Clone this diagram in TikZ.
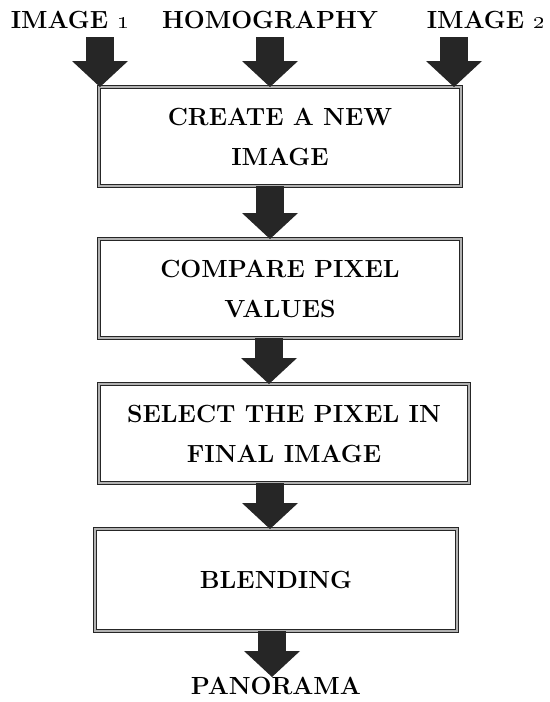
\documentclass[tikz,border=0pt]{standalone}
\usetikzlibrary{positioning,arrows.meta}

\tikzset{
  proc/.style={draw=black!85, double=black!30, double distance=0.8pt, line width=0.8pt,
    fill=white, align=center, minimum width=181pt, minimum height=49.5pt,
    inner sep=0pt, outer sep=0pt, font=\fontsize{12.4}{20}\selectfont\bfseries},
  lbl/.style={inner sep=0pt, outer sep=0pt, font=\fontsize{12.4}{15}\selectfont\bfseries},
  blk/.style={draw=black!85, line width=14pt,
    -{Triangle[width=28pt,length=13pt,line width=0pt]}},
}

\begin{document}
\begin{tikzpicture}[x=0.5pt, y=-0.5pt]
  \useasboundingbox (0,0) rectangle (550,702);

  \node[lbl, anchor=base] (img1) at (70,28) {IMAGE \oldstylenums{1}};
  \node[lbl, anchor=base] (homog) at (270,28) {HOMOGRAPHY};
  \node[lbl, anchor=base] (img2) at (486,28) {IMAGE \oldstylenums{2}};

  \node[proc] (create) at (280,136.5) {CREATE A NEW\\IMAGE};
  \node[proc, below=26.5pt of create] (compare) {COMPARE PIXEL\\VALUES};
  \node[proc, below=23pt of compare, xshift=2pt, minimum width=185pt] (select)
    {SELECT THE PIXEL IN\\FINAL IMAGE};
  \node[proc, below=23pt of select, xshift=-4pt, minimum height=51pt] (blend) {BLENDING};
  \node[lbl, below=23pt of blend] (pano) {PANORAMA};

  \draw[blk, shorten <=4.5pt] ([xshift=0.5pt]img1.south -| create.north west) -- ([xshift=0.5pt]create.north west);
  \draw[blk, shorten <=4.5pt] (homog.south) -- (homog.south |- create.north);
  \draw[blk, shorten <=4.5pt] ([xshift=-3.5pt]img2.south -| create.north east) -- ([xshift=-3.5pt]create.north east);

  \draw[blk] ([xshift=-5pt]create.south) -- ([xshift=-5pt]create.south |- compare.north);
  \draw[blk] ([xshift=-5.5pt]compare.south) -- ([xshift=-5.5pt]compare.south |- select.north);
  \draw[blk] ([xshift=-7pt]select.south) -- ([xshift=-7pt]select.south |- blend.north);
  \draw[blk] ([xshift=-2pt]blend.south) -- ([xshift=-2pt]pano.north);
\end{tikzpicture}
\end{document}
